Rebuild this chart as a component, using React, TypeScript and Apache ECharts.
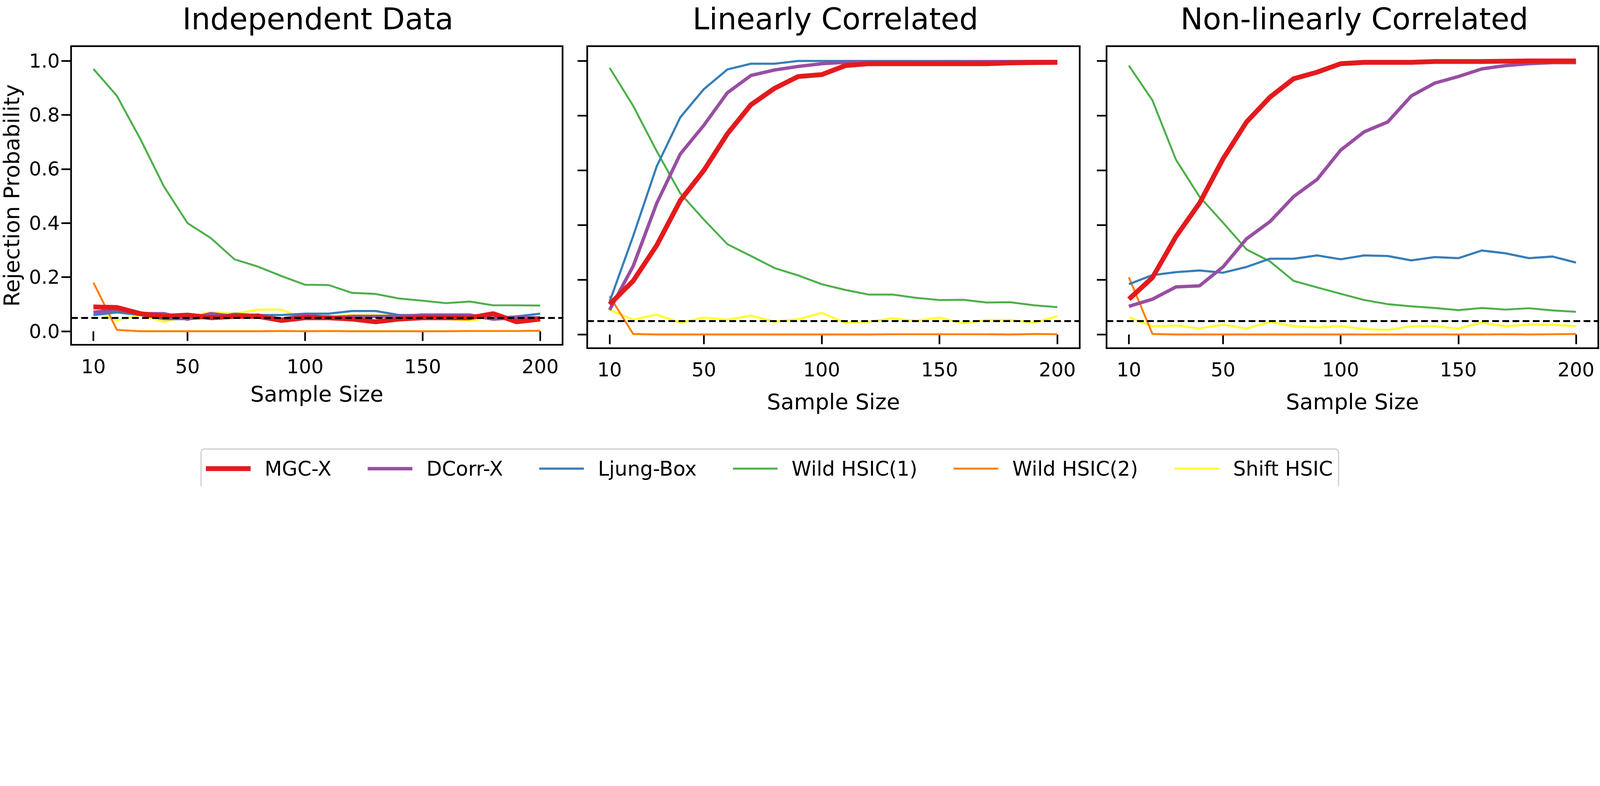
import React, { useEffect, useRef } from "react";
import * as echarts from "echarts";

const sampleSizes = [10, 20, 30, 40, 50, 60, 70, 80, 90, 100, 110, 120, 130, 140, 150, 160, 170, 180, 190, 200];
const methods = ["MGC-X", "DCorr-X", "Ljung-Box", "Wild HSIC(1)", "Wild HSIC(2)", "Shift HSIC"];
const colors = ["#e41a1c", "#984ea3", "#377eb8", "#4daf4a", "#ff7f00", "#ffff33"];
const widths = [20, 14, 9, 8, 8, 9];
const titles = ["Independent Data", "Linearly Correlated", "Non-linearly Correlated"];
const xTicks = [10, 50, 100, 150, 200];
const yTicks = [0, 0.2, 0.4, 0.6, 0.8, 1.0];
const alpha = 0.05;

// Independent Data
const indMGC = [0.09, 0.088, 0.065, 0.055, 0.06, 0.05, 0.055, 0.055, 0.04, 0.05, 0.05, 0.045, 0.035, 0.045, 0.05, 0.05, 0.05, 0.065, 0.035, 0.045];
const indDCorr = [0.07, 0.08, 0.065, 0.065, 0.045, 0.065, 0.055, 0.06, 0.045, 0.06, 0.05, 0.055, 0.055, 0.055, 0.06, 0.06, 0.06, 0.045, 0.05, 0.05];
const indLjung = [0.06, 0.07, 0.06, 0.045, 0.045, 0.05, 0.065, 0.06, 0.06, 0.065, 0.065, 0.075, 0.075, 0.06, 0.06, 0.06, 0.06, 0.05, 0.055, 0.065];
const indWild1 = [0.97, 0.87, 0.71, 0.535, 0.4, 0.344, 0.266, 0.239, 0.204, 0.172, 0.171, 0.142, 0.138, 0.121, 0.113, 0.104, 0.11, 0.096, 0.096, 0.095];
const indWild2 = [0.18, 0.005, 0, 0, 0, 0, 0, 0, 0.001, 0, 0.001, 0, 0, 0, 0, 0, 0.001, 0.001, 0.001, 0.002];
const indShift = [0.075, 0.04, 0.06, 0.035, 0.055, 0.07, 0.065, 0.08, 0.08, 0.045, 0.055, 0.06, 0.06, 0.06, 0.05, 0.045, 0.04, 0.05, 0.055, 0.05];

// Linearly Correlated
const linMGC = [0.11, 0.196, 0.326, 0.49, 0.6, 0.734, 0.84, 0.9, 0.943, 0.95, 0.983, 0.99, 0.99, 0.99, 0.99, 0.99, 0.99, 0.993, 0.994, 0.995];
const linDCorr = [0.09, 0.25, 0.48, 0.66, 0.765, 0.884, 0.947, 0.967, 0.98, 0.99, 0.995, 0.995, 0.995, 0.995, 0.996, 0.996, 0.997, 0.997, 0.998, 0.998];
const linLjung = [0.12, 0.36, 0.615, 0.794, 0.897, 0.969, 0.99, 0.99, 1.0, 1.0, 1.0, 1.0, 1.0, 1.0, 1.0, 1.0, 1.0, 1.0, 1.0, 1.0];
const linWild1 = [0.975, 0.836, 0.67, 0.516, 0.42, 0.33, 0.287, 0.243, 0.216, 0.184, 0.163, 0.146, 0.146, 0.134, 0.126, 0.127, 0.117, 0.118, 0.107, 0.1];
const linWild2 = [0.14, 0.002, 0, 0, 0, 0, 0, 0, 0, 0, 0, 0, 0.001, 0.001, 0.001, 0.001, 0.001, 0, 0.002, 0.001];
const linShift = [0.09, 0.054, 0.073, 0.043, 0.062, 0.054, 0.069, 0.047, 0.056, 0.079, 0.043, 0.047, 0.059, 0.05, 0.062, 0.041, 0.053, 0.053, 0.043, 0.067];

// Non-linearly Correlated
const nlMGC = [0.129, 0.208, 0.358, 0.48, 0.642, 0.777, 0.868, 0.935, 0.959, 0.99, 0.995, 0.995, 0.995, 0.998, 0.998, 0.998, 0.999, 1.0, 1.0, 1.0];
const nlDCorr = [0.103, 0.129, 0.174, 0.178, 0.247, 0.35, 0.413, 0.504, 0.567, 0.674, 0.741, 0.777, 0.872, 0.919, 0.943, 0.971, 0.983, 0.99, 0.994, 0.994];
const nlLjung = [0.184, 0.217, 0.228, 0.234, 0.226, 0.247, 0.277, 0.277, 0.289, 0.275, 0.289, 0.287, 0.271, 0.283, 0.279, 0.307, 0.297, 0.279, 0.285, 0.263];
const nlWild1 = [0.983, 0.856, 0.639, 0.504, 0.409, 0.311, 0.267, 0.196, 0.172, 0.149, 0.126, 0.111, 0.103, 0.097, 0.089, 0.097, 0.091, 0.096, 0.088, 0.083];
const nlWild2 = [0.209, 0.002, 0, 0, 0, 0, 0, 0, 0, 0, 0, 0, 0, 0, 0, 0, 0.001, 0, 0.001, 0.002];
const nlShift = [0.063, 0.03, 0.033, 0.022, 0.036, 0.022, 0.046, 0.03, 0.026, 0.03, 0.02, 0.017, 0.03, 0.03, 0.022, 0.043, 0.03, 0.036, 0.036, 0.03];

const panels = [
  [indMGC, indDCorr, indLjung, indWild1, indWild2, indShift],
  [linMGC, linDCorr, linLjung, linWild1, linWild2, linShift],
  [nlMGC, nlDCorr, nlLjung, nlWild1, nlWild2, nlShift],
];

const FONT = "DejaVu Sans";
const BASE_W = 6621;
const BASE_H = 2011;

export default function App() {
  const ref = useRef<HTMLDivElement>(null);
  const s = (typeof window !== "undefined" ? window.innerWidth : BASE_W) / BASE_W;
  useEffect(() => {
    document.body.style.margin = "0";
    document.body.style.overflow = "hidden";
    const k = (v: number) => v * s;
    const chart = echarts.init(ref.current!, null, { renderer: "svg" });
    const grids = [
      { left: 287, top: 191, width: 2041, height: 1235 },
      { left: 2430, top: 191, width: 2038, height: 1249 },
      { left: 4579, top: 191, width: 2035, height: 1249 },
    ];
    const nameGaps = [158, 175, 175];
    const xAxis: any[] = [];
    const yAxis: any[] = [];
    const series: any[] = [];
    panels.forEach((p, gi) => {
      xAxis.push({
        type: "value", gridIndex: gi, min: 0.5, max: 209.5,
        name: "Sample Size", nameLocation: "middle", nameGap: k(nameGaps[gi]),
        nameTextStyle: { fontFamily: FONT, fontSize: k(90), color: "#000" },
        axisLine: { show: false },
        splitLine: { show: false },
        axisTick: { show: true, inside: false, length: k(40), customValues: xTicks, lineStyle: { color: "#000", width: k(7) } },
        axisLabel: { show: true, customValues: xTicks, margin: k(50), fontFamily: FONT, fontSize: k(80), color: "#000" },
      });
      yAxis.push({
        type: "value", gridIndex: gi, min: -0.05, max: 1.054,
        name: gi === 0 ? "Rejection Probability" : "", nameLocation: "middle", nameGap: k(202), nameRotate: 90,
        nameTextStyle: { fontFamily: FONT, fontSize: k(90), color: "#000" },
        axisLine: { show: false },
        splitLine: { show: false },
        axisTick: { show: true, inside: false, length: k(40), customValues: yTicks, lineStyle: { color: "#000", width: k(7) } },
        axisLabel: {
          show: gi === 0, customValues: yTicks, margin: k(47), fontFamily: FONT, fontSize: k(80), color: "#000",
          formatter: (v: number) => v.toFixed(1),
        },
      });
      p.forEach((vals, si) => {
        series.push({
          type: "line", name: methods[si], xAxisIndex: gi, yAxisIndex: gi,
          data: sampleSizes.map((x, i) => [x, vals[i]]),
          symbol: "none", z: 10 - si,
          color: colors[si],
          lineStyle: { color: colors[si], width: k(widths[si]) },
          ...(si === 0
            ? {
                markLine: {
                  silent: true, symbol: "none", label: { show: false },
                  lineStyle: { color: "#000", type: [k(28), k(14)], width: k(8) },
                  data: [{ yAxis: alpha }],
                  z: 20,
                },
              }
            : {}),
        });
      });
    });
    const iconH = 20;
    const legendData = methods.map((m, i) => {
      const h = Math.max(widths[i], 8);
      const y0 = (iconH - h) / 2;
      const y1 = y0 + h;
      return {
        name: m,
        icon: `path://M0,0L1,0Z M0,${iconH}L1,${iconH}Z M0,${y0}H185V${y1}H0Z`,
        itemStyle: { color: colors[i], borderWidth: 0 },
      };
    });
    chart.setOption({
      animation: false,
      backgroundColor: "#fff",
      title: titles.map((t, i) => ({
        text: t, left: k(grids[i].left + grids[i].width / 2), top: k(8), textAlign: "center",
        textStyle: { fontFamily: FONT, fontSize: k(124), fontWeight: "normal", color: "#000" },
      })),
      grid: grids.map((g) => ({
        left: k(g.left), top: k(g.top), width: k(g.width), height: k(g.height),
        show: true, borderColor: "#000", borderWidth: k(7), backgroundColor: "transparent",
      })),
      xAxis, yAxis, series,
      legend: {
        data: legendData, left: k(832), top: k(1857),
        orient: "horizontal", itemWidth: k(185), itemHeight: k(iconH), itemGap: k(150),
        padding: [k(40), k(24), k(40), k(20)],
        borderColor: "#d6d6d6", borderWidth: k(6), borderRadius: k(14),
        textStyle: { fontFamily: FONT, fontSize: k(83), color: "#000", padding: [0, 0, 0, k(50)] },
      },
    });
    return () => chart.dispose();
  }, []);
  return <div ref={ref} style={{ width: BASE_W * s, height: BASE_H * s }} />;
}
